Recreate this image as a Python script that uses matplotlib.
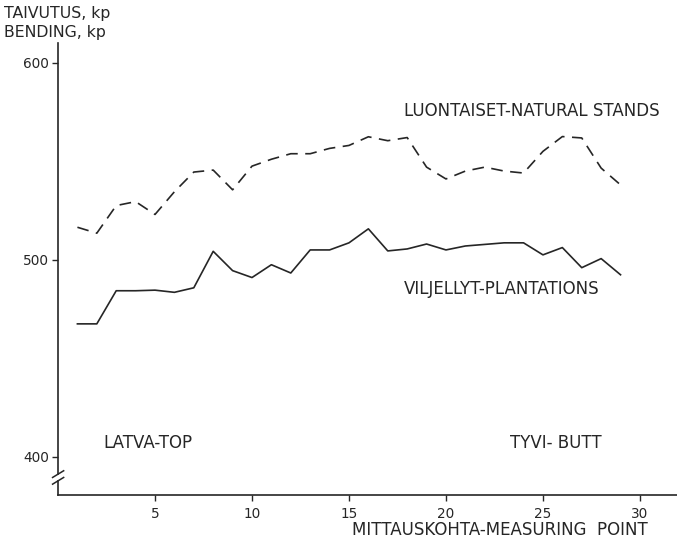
import numpy as np
import matplotlib
matplotlib.use("Agg")
import matplotlib.pyplot as plt

# measuring points along the stem
points = list(range(1, 30))

# bending strength, kp
natural = [516.5, 513.5, 527.5, 529.5, 523, 534.5, 544.5, 545.5, 535.5, 547.5,
           551, 553.8, 553.8, 556.5, 558, 562.4, 560.4, 562, 547, 541,
           545, 547, 545, 544, 555, 562.5, 561.8, 546.5, 538]
plantations = [467.5, 467.5, 484.3, 484.3, 484.6, 483.5, 485.8, 504.3, 494.5, 491,
               497.5, 493.3, 505, 505, 508.6, 515.7, 504.5, 505.5, 508, 505,
               507, 507.8, 508.6, 508.6, 502.5, 506.2, 496, 500.6, 492.4]

xticks = [5, 10, 15, 20, 25, 30]
yticks = [400, 500, 600]

ink = '#262626'
plt.rcParams['font.family'] = ['DejaVu Sans']

fig = plt.figure(figsize=(6.77, 5.46), dpi=100)
ax = fig.add_axes([0.0857, 0.0934, 0.914, 0.828])

ax.plot(points, natural, color=ink, lw=1.2, dashes=(7, 4.5))
ax.plot(points, plantations, color=ink, lw=1.2)

ax.set_xlim(0, 31.9)
ax.set_ylim(380.7, 610)
ax.set_xticks(xticks)
ax.set_yticks(yticks)
ax.tick_params(direction='out', length=4.5, width=1, color=ink,
               labelcolor=ink, labelsize=9.8, pad=2)
ax.tick_params(axis='x', pad=4)

for s in ['top', 'right']:
    ax.spines[s].set_visible(False)
for s in ['left', 'bottom']:
    ax.spines[s].set_color(ink)
    ax.spines[s].set_linewidth(1.2)

# axis break on the y-axis
ax.spines['left'].set_bounds(391.2, 610)
ax.plot([0, 0], [380.7, 387.6], color=ink, lw=1.2, clip_on=False)
ax.plot([-0.28, 0.29], [389.6, 393.0], color=ink, lw=1.1, clip_on=False)
ax.plot([-0.28, 0.29], [386.2, 389.6], color=ink, lw=1.1, clip_on=False)

fs = 12
ax.text(17.85, 575.5, 'LUONTAISET-NATURAL STANDS', fontsize=fs, color=ink,
        va='center', ha='left')
ax.text(17.85, 485, 'VILJELLYT-PLANTATIONS', fontsize=fs, color=ink,
        va='center', ha='left')
ax.text(2.35, 407, 'LATVA-TOP', fontsize=fs, color=ink, va='center', ha='left')
ax.text(23.3, 407, 'TYVI- BUTT', fontsize=fs, color=ink, va='center', ha='left')

fig.text(0.006, 0.976, 'TAIVUTUS, kp', fontsize=11.3, color=ink, va='center')
fig.text(0.006, 0.94, 'BENDING, kp', fontsize=11.3, color=ink, va='center')
fig.text(0.957, 0.029, 'MITTAUSKOHTA-MEASURING  POINT', fontsize=fs, color=ink,
         va='center', ha='right')

fig.savefig('out.png', dpi=100, facecolor='white')
